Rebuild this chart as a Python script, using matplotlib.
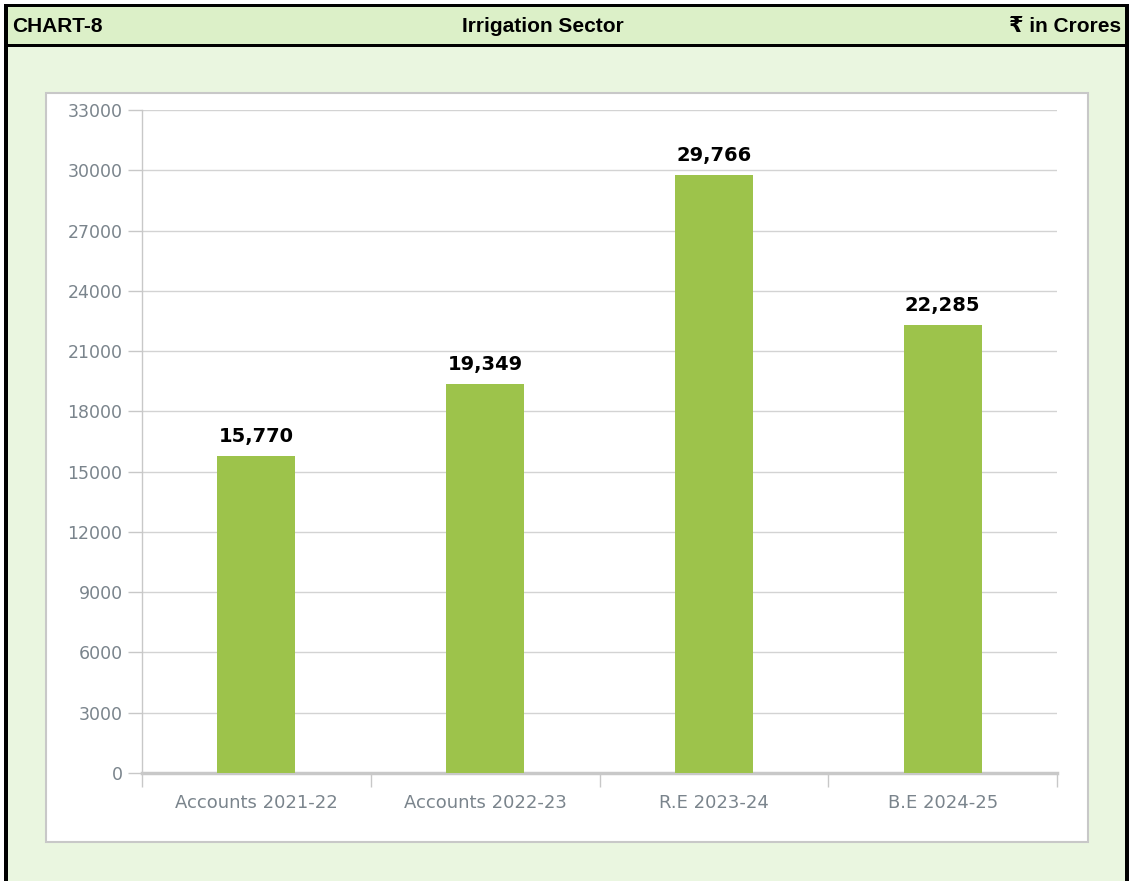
import matplotlib
matplotlib.use("Agg")
import matplotlib.pyplot as plt
from matplotlib.patches import Rectangle
from matplotlib.ticker import FuncFormatter

plt.rcParams["font.family"] = ["DejaVu Sans"]

categories = ["Accounts 2021-22", "Accounts 2022-23", "R.E 2023-24", "B.E 2024-25"]
values = [15770, 19349, 29766, 22285]
yticks = list(range(0, 33001, 3000))

W, H = 1131, 881
fig = plt.figure(figsize=(W / 100, H / 100), dpi=100)
fig.patch.set_facecolor("white")

def px_rect(x0, y0, x1, y1, **kw):
    r = Rectangle((x0 / W, 1 - y1 / H), (x1 - x0) / W, (y1 - y0) / H,
                  transform=fig.transFigure, **kw)
    fig.patches.append(r)

# backgrounds
px_rect(4, 4, 1129, 881, facecolor="#EAF6E0", edgecolor="none", zorder=0)
px_rect(4, 4, 1129, 45, facecolor="#DCF0C8", edgecolor="none", zorder=0)
# black borders
px_rect(4, 4, 8, 881, facecolor="black", edgecolor="none", zorder=1)
px_rect(1125, 4, 1129, 881, facecolor="black", edgecolor="none", zorder=1)
px_rect(4, 4, 1129, 7, facecolor="black", edgecolor="none", zorder=1)
px_rect(4, 44, 1129, 47, facecolor="black", edgecolor="none", zorder=1)
# white chart panel
px_rect(46, 93, 1088, 842, facecolor="white", edgecolor="#C8C8C8", linewidth=1.5, zorder=1)

hdr = ["Liberation Sans", "DejaVu Sans"]
fig.text(12 / W, 1 - 26 / H, "CHART-8", family=hdr, fontweight="bold", fontsize=15,
         ha="left", va="center", color="black")
fig.text(543 / W, 1 - 26 / H, "Irrigation Sector", family=hdr, fontweight="bold", fontsize=15,
         ha="center", va="center", color="black")
fig.text(1121 / W, 1 - 26 / H, "\u20b9 in Crores", family=hdr, fontweight="bold", fontsize=15,
         ha="right", va="center", color="black")

ax = fig.add_axes([142 / W, 1 - 773 / H, (1057 - 142) / W, (773 - 110) / H])
ax.set_facecolor("white")
ax.set_zorder(2)

x = list(range(len(categories)))
bars = ax.bar(x, values, width=0.34, color="#9DC34B", zorder=3)
for xi, v in zip(x, values):
    ax.text(xi, v + 500, f"{v:,}", ha="center", va="bottom", fontsize=14,
            fontweight="bold", color="black", family="DejaVu Sans")

ax.set_xlim(-0.5, len(categories) - 0.5)
ax.set_ylim(0, 33000)
ax.set_yticks(yticks)
ax.yaxis.set_major_formatter(FuncFormatter(lambda v, p: f"{int(v)}"))
ax.grid(axis="y", color="#D3D3D3", linewidth=1, zorder=0)
ax.set_axisbelow(True)

ax.set_xticks(x)
ax.set_xticklabels(categories)
ax.set_xticks([i - 0.5 for i in range(len(categories) + 1)], minor=True)
ax.tick_params(axis="x", which="major", length=0, pad=15, labelsize=13, labelcolor="#7A848C")
ax.tick_params(axis="x", which="minor", length=10, width=1, color="#C8C8C8", direction="out")
ax.tick_params(axis="y", length=10, width=1, color="#C8C8C8", pad=4, labelsize=12.5,
               labelcolor="#7A848C")

for s in ["top", "right"]:
    ax.spines[s].set_visible(False)
ax.spines["left"].set_color("#C8C8C8")
ax.spines["left"].set_linewidth(1)
ax.spines["bottom"].set_color("#C8C8C8")
ax.spines["bottom"].set_linewidth(2.5)

fig.savefig("out.png", dpi=100, facecolor=fig.get_facecolor())
